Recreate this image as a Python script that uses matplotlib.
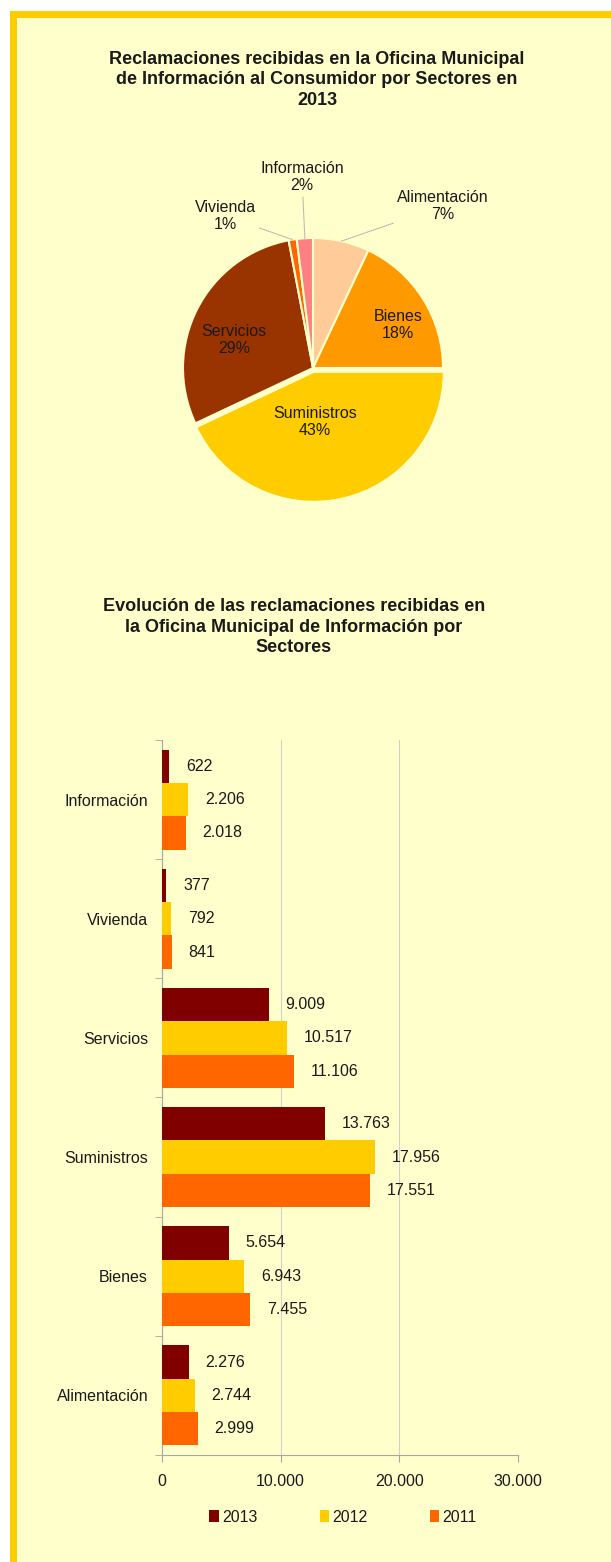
import numpy as np
import matplotlib.pyplot as plt
from matplotlib.patches import Rectangle, Patch

plt.rcParams['font.family'] = ['Liberation Sans', 'DejaVu Sans']

# pie data (2013 shares, %)
pie_labels = ['Alimentación', 'Bienes', 'Suministros', 'Servicios', 'Vivienda', 'Información']
pie_pct = [7, 18, 43, 29, 1, 2]
pie_colors = ['#FFCC99', '#FF9900', '#FFCC00', '#993300', '#FF6600', '#FF8080']

# bar data
sectores = ['Alimentación', 'Bienes', 'Suministros', 'Servicios', 'Vivienda', 'Información']
v2013 = [2276, 5654, 13763, 9009, 377, 622]
v2012 = [2744, 6943, 17956, 10517, 792, 2206]
v2011 = [2999, 7455, 17551, 11106, 841, 2018]
years = ['2013', '2012', '2011']
bar_colors = ['#800000', '#FFCC00', '#FF6600']

W, H = 611, 1562
def fx(x): return x / W
def fy(y): return 1 - y / H

fig = plt.figure(figsize=(W / 100, H / 100), dpi=100)
fig.patch.set_facecolor('white')
fig.add_artist(Rectangle((fx(10), 0), 1, fy(11), transform=fig.transFigure,
                         facecolor='#FFCC00', edgecolor='none', zorder=-2))
fig.add_artist(Rectangle((fx(17), 0), 1, fy(18), transform=fig.transFigure,
                         facecolor='#FFFFCC', edgecolor='none', zorder=-1))

txt = '#1a1a1a'
fs = 11.5

fig.text(fx(317), fy(80), 'Reclamaciones recibidas en la Oficina Municipal\n'
         'de Información al Consumidor por Sectores en\n2013',
         ha='center', va='center', fontsize=13, fontweight='bold', color=txt, linespacing=1.27)
fig.text(fx(294), fy(627), 'Evolución de las reclamaciones recibidas en\n'
         'la Oficina Municipal de Información por\nSectores',
         ha='center', va='center', fontsize=13, fontweight='bold', color=txt, linespacing=1.27)

# ---- pie ----
R = 130
cx, cy = 313, 368
ax1 = fig.add_axes([fx(cx - 250), fy(cy + 250), 500 / W, 500 / H])
ax1.set_facecolor('none')
explode = [0, 0, 0.03, 0, 0, 0]
wedges, _ = ax1.pie(pie_pct, colors=pie_colors, startangle=90, counterclock=False,
                    explode=explode, wedgeprops=dict(edgecolor='#FFFFCC', linewidth=1.5))
ax1.set_xlim(-250 / R, 250 / R)
ax1.set_ylim(-250 / R, 250 / R)
ax1.axis('off')

# label positions in pixels
label_pos = {'Alimentación': (443, 206), 'Bienes': (398, 325), 'Suministros': (315, 422),
             'Servicios': (234, 340), 'Vivienda': (225, 216), 'Información': (302, 177)}
outside = ['Alimentación', 'Vivienda', 'Información']
for w, lab, p in zip(wedges, pie_labels, pie_pct):
    mid = np.deg2rad((w.theta1 + w.theta2) / 2)
    c = w.center
    s = f'{lab}\n{p}%'
    px, py = label_pos[lab]
    pos = ((px - cx) / R, -(py - cy) / R)
    if lab not in outside:
        ax1.text(*pos, s, ha='center', va='center', fontsize=11.5, color=txt, linespacing=1.2)
    else:
        ax1.annotate(s, xy=(c[0] + np.cos(mid), c[1] + np.sin(mid)), xytext=pos,
                     ha='center', va='center', fontsize=11.5, color=txt, linespacing=1.2,
                     arrowprops=dict(arrowstyle='-', color='#B0B0B0', lw=0.8,
                                     linestyle=(0, (1, 1)), shrinkA=1, shrinkB=0))

# ---- bars ----
ax2 = fig.add_axes([fx(162), fy(1455), (518 - 162) / W, (1455 - 740) / H])
ax2.set_facecolor('none')
y = np.arange(len(sectores))
h = 0.28
series = [v2013, v2012, v2011]
for k, (vals, col) in enumerate(zip(series, bar_colors)):
    yy = y + h * (1 - k)
    ax2.barh(yy, vals, height=h, color=col, edgecolor='none', zorder=3)
    for yi, v in zip(yy, vals):
        ax2.annotate(f'{v:,}'.replace(',', '.'), xy=(v, yi), xytext=(12, 0),
                     textcoords='offset points', ha='left', va='center',
                     fontsize=fs, color=txt)

ax2.set_xlim(0, 30000)
ax2.set_ylim(-0.5, 5.5)
ax2.set_xticks([0, 10000, 20000, 30000])
ax2.set_xticklabels(['0', '10.000', '20.000', '30.000'], fontsize=fs, color=txt)
ax2.set_yticks(y)
ax2.set_yticklabels(sectores, fontsize=fs, color=txt)
ax2.set_yticks(np.arange(-0.5, 6, 1), minor=True)
ax2.tick_params(axis='y', which='major', length=0, pad=10)
ax2.tick_params(axis='y', which='minor', length=5, color='#A6A6A6', direction='out')
ax2.tick_params(axis='x', length=5, color='#A6A6A6', pad=9)
ax2.grid(axis='x', color='#D0D0D0', linewidth=0.8, zorder=0)
for s in ['top', 'right']:
    ax2.spines[s].set_visible(False)
ax2.spines['left'].set_color('#A6A6A6')
ax2.spines['bottom'].set_color('#A6A6A6')

handles = [Patch(facecolor=c, edgecolor='none') for c in bar_colors]
fig.legend(handles, years, loc='center', bbox_to_anchor=(fx(343), fy(1517)), ncol=3,
           frameon=False, fontsize=fs, handlelength=0.6, handleheight=0.8,
           handletextpad=0.2, columnspacing=3.9, labelcolor=txt)

fig.savefig('out.png', dpi=100, facecolor=fig.get_facecolor())
